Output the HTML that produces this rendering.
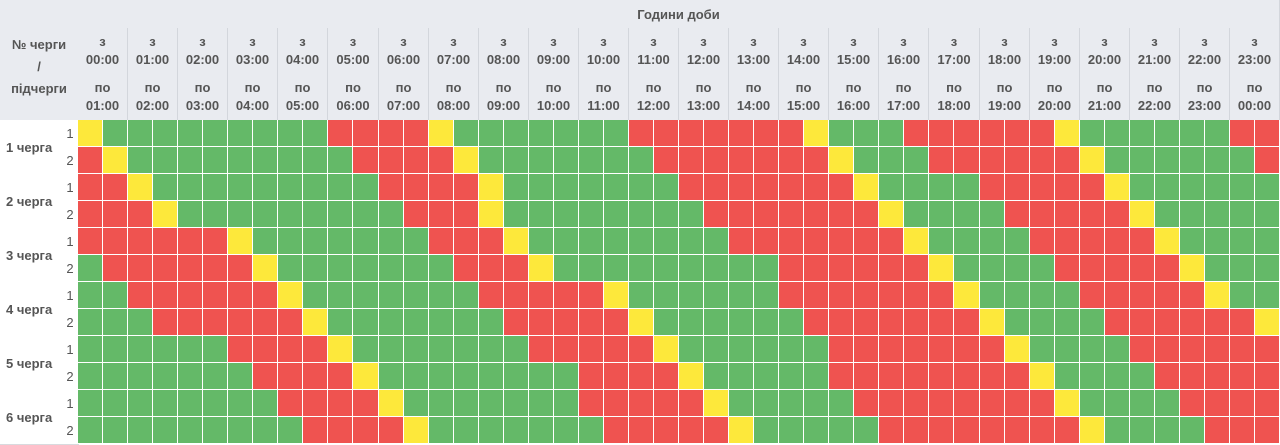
<!DOCTYPE html>
<html><head><meta charset="utf-8">
<style>
*{margin:0;padding:0;box-sizing:border-box}
body{width:1280px;height:445px;overflow:hidden;background:#fff;font-family:"Liberation Sans","DejaVu Sans",sans-serif;position:relative}
.a{position:absolute}
.h{background:#e9ebf0;border-right:1px solid #d3d6dc;border-bottom:1px solid #d3d6dc;color:#555;font-weight:bold;font-size:13px;text-align:center;line-height:18px}
.l{background:#fff;border-right:1px solid #d8dade;border-bottom:1px solid #d8dade;color:#555;font-weight:bold;font-size:13px}
.c{border-right:1px solid #fff;border-bottom:1px solid #fff}
.G{background:#64b968}.R{background:#ef5350}.Y{background:#fde83b}
</style></head><body>
<div class="a h" style="left:0;top:0;width:79px;height:121px;padding-top:34px;line-height:22px">№ черги<br>/<br>підчерги</div>
<div class="a h" style="left:78px;top:0;width:1202px;height:29px;line-height:29px">Години доби</div>
<div id="hdr"></div>
<div class="a l" style="left:0;top:120px;width:63px;height:55px;line-height:55px;padding-left:6px">1 черга</div>
<div class="a l" style="left:0;top:174px;width:63px;height:55px;line-height:55px;padding-left:6px">2 черга</div>
<div class="a l" style="left:0;top:228px;width:63px;height:55px;line-height:55px;padding-left:6px">3 черга</div>
<div class="a l" style="left:0;top:282px;width:63px;height:55px;line-height:55px;padding-left:6px">4 черга</div>
<div class="a l" style="left:0;top:336px;width:63px;height:55px;line-height:55px;padding-left:6px">5 черга</div>
<div class="a l" style="left:0;top:390px;width:63px;height:55px;line-height:55px;padding-left:6px">6 черга</div>
<div id="sub"></div>
<div id="grid"></div>
<script>
var hw=1202/24,cw=hw/2,h='';
function p(n){return (n<10?'0':'')+n+':00'}
for(var i=0;i<24;i++){var x=Math.round(78+i*hw),x2=Math.round(78+(i+1)*hw);
h+='<div class="a h" style="left:'+x+'px;top:28px;width:'+(x2-x+(i==23?0:0))+'px;height:47px;padding-top:5px">з<br>'+p(i)+'</div>';
h+='<div class="a h" style="left:'+x+'px;top:74px;width:'+(x2-x)+'px;height:47px;padding-top:5px">по<br>'+p((i+1)%24)+'</div>';}
document.getElementById('hdr').innerHTML=h;
var s='';for(var r=0;r<12;r++){s+='<div class="a l" style="left:62px;top:'+(120+r*27)+'px;width:17px;height:28px;line-height:27px;text-align:center;font-weight:normal">'+(r%2+1)+'</div>';}
document.getElementById('sub').innerHTML=s;
var rows=[
"YGGGGGGGGGRRRRYGGGGGGGRRRRRRRYGGGRRRRRRYGGGGGGRR",
"RYGGGGGGGGGRRRRYGGGGGGGRRRRRRRYGGGRRRRRRYGGGGGGR",
"RRYGGGGGGGGGRRRRYGGGGGGGRRRRRRRYGGGGRRRRRYGGGGGG",
"RRRYGGGGGGGGGRRRYGGGGGGGGRRRRRRRYGGGGRRRRRYGGGGG",
"RRRRRRYGGGGGGGRRRYGGGGGGGGRRRRRRRYGGGGRRRRRYGGGG",
"GRRRRRRYGGGGGGGRRRYGGGGGGGGGRRRRRRYGGGGRRRRRYGGG",
"GGRRRRRRYGGGGGGGRRRRRYGGGGGGRRRRRRRYGGGGRRRRRYGG",
"GGGRRRRRRYGGGGGGGRRRRRYGGGGGGRRRRRRRYGGGGRRRRRRY",
"GGGGGGRRRRYGGGGGGGRRRRRYGGGGGGRRRRRRRYGGGGRRRRRR",
"GGGGGGGRRRRYGGGGGGGGRRRRYGGGGGRRRRRRRRYGGGGRRRRR",
"GGGGGGGGRRRRYGGGGGGGRRRRRYGGGGGRRRRRRRRYGGGGRRRR",
"GGGGGGGGGRRRRYGGGGGGGRRRRRYGGGGGRRRRRRRRYGGGGRRR"];
var g='';for(var r=0;r<12;r++)for(var c=0;c<48;c++){
var x=Math.round(78+c*cw),x2=Math.round(78+(c+1)*cw);
g+='<div class="a c '+rows[r][c]+'" style="left:'+x+'px;top:'+(120+r*27)+'px;width:'+(x2-x)+'px;height:27px"></div>';}
document.getElementById('grid').innerHTML=g;
</script>
</body></html>
